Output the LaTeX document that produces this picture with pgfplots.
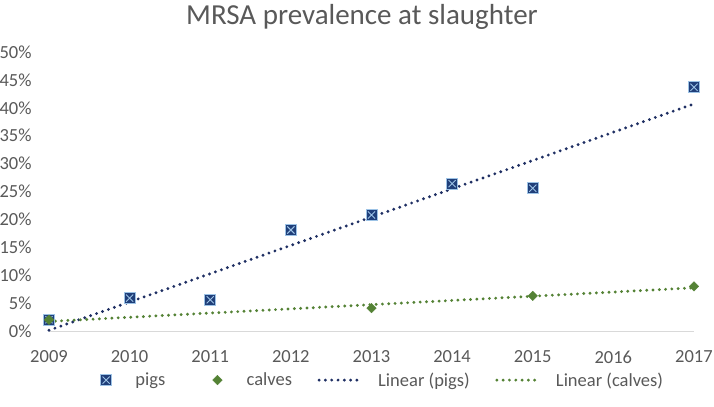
\documentclass[border=0pt]{standalone}
\usepackage{fontspec}
\setmainfont{Carlito}
\usepackage{pgfplots}
\pgfplotsset{compat=1.18}
\definecolor{navy}{HTML}{1F2F63}
\definecolor{mfill}{HTML}{203F7A}
\definecolor{lblue}{HTML}{9DC3E6}
\definecolor{dgreen}{HTML}{548235}
\definecolor{txt}{HTML}{595959}
\definecolor{axl}{HTML}{D9D9D9}
\pgfdeclareplotmark{sqx}{%
  \pgfpathrectangle{\pgfqpoint{-\pgfplotmarksize}{-\pgfplotmarksize}}{\pgfqpoint{2\pgfplotmarksize}{2\pgfplotmarksize}}%
  \pgfusepathqfillstroke
  \pgfpathmoveto{\pgfqpoint{-0.65\pgfplotmarksize}{-0.65\pgfplotmarksize}}%
  \pgfpathlineto{\pgfqpoint{0.65\pgfplotmarksize}{0.65\pgfplotmarksize}}%
  \pgfpathmoveto{\pgfqpoint{-0.65\pgfplotmarksize}{0.65\pgfplotmarksize}}%
  \pgfpathlineto{\pgfqpoint{0.65\pgfplotmarksize}{-0.65\pgfplotmarksize}}%
  \pgfusepathqstroke
}
\pgfplotsset{
  markleg/.style={legend image code/.code={\draw[##1] plot coordinates {(28bp,0)}; \path (0bp,0) (55bp,0);}},
  navyleg/.style={legend image code/.code={\draw[navy, line width=3.2bp, line cap=round, dash pattern=on 0bp off 6.3bp] (1.5bp,0) -- (44bp,0); \path (0bp,0) (57bp,0);}},
  greenleg/.style={legend image code/.code={\draw[dgreen, line width=3.2bp, line cap=round, dash pattern=on 0bp off 6.3bp] (1.5bp,0) -- (44bp,0); \path (0bp,0) (57bp,0);}},
}
\begin{document}
\begin{tikzpicture}
\useasboundingbox (0bp,0bp) rectangle (714bp,407bp);
\begin{axis}[
  at={(49bp,76bp)}, anchor=south west,
  scale only axis, width=645bp, height=279bp,
  xmin=2009, xmax=2017, ymin=0, ymax=50,
  clip=false,
  axis lines*=left,
  y axis line style={draw=none},
  x axis line style={draw=axl, line width=1bp},
  major tick length=0pt,
  xtick={2009,...,2017},
  ytick={0,5,...,50},
  /pgf/number format/assume math mode=true,
  xticklabel style={/pgf/number format/1000 sep={}, yshift=-16bp},
  yticklabel={\pgfmathprintnumber{\tick}\%},
  yticklabel style={xshift=-14bp},
  tick label style={font=\fontsize{18.5bp}{22bp}\selectfont, text=txt},
  legend columns=4,
  legend style={draw=none, fill=none, at={(0.5,-0.176)}, anchor=center,
    font=\fontsize{18.5bp}{22bp}\selectfont, text=txt,
    /tikz/every even column/.append style={column sep=22bp}},
]
\addplot[only marks, mark=sqx, mark size=5.5bp, mark options={fill=mfill, draw=lblue, line width=0.9bp}, markleg]
  coordinates {(2009,2.0) (2010,5.9) (2011,5.6) (2012,18.1) (2013,20.8) (2014,26.4) (2015,25.6) (2017,43.7)};
\addlegendentry{pigs}
\addplot[only marks, mark=square*, mark size=3.4bp, mark options={rotate=45, fill=dgreen, draw=dgreen}, markleg]
  coordinates {(2009,2.0) (2013,4.1) (2015,6.3) (2017,8.0)};
\addlegendentry{calves}
\addplot[navy, line width=3.2bp, line cap=round, dash pattern=on 0bp off 6.3bp, navyleg]
  coordinates {(2009,0.13) (2017,40.70)};
\addlegendentry{Linear (pigs)}
\addplot[dgreen, line width=3.2bp, line cap=round, dash pattern=on 0bp off 6.3bp, greenleg]
  coordinates {(2009,1.71) (2017,7.74)};
\addlegendentry{Linear (calves)}
\end{axis}
\node[font=\fontsize{29bp}{34bp}\selectfont, text=txt, anchor=base] at (362bp,382bp) {MRSA prevalence at slaughter};
\end{tikzpicture}
\end{document}
